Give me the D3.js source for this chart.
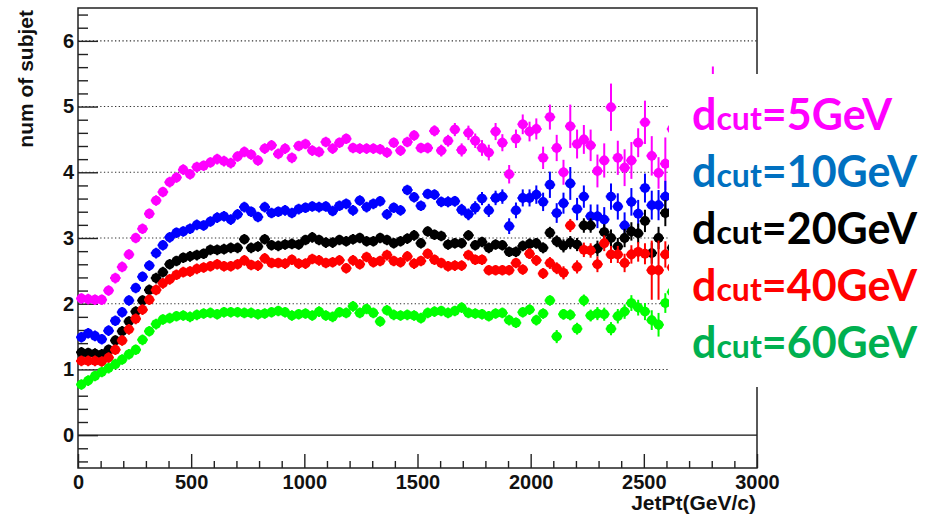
<!DOCTYPE html>
<html>
<head>
<meta charset="utf-8">
<script src="https://cdn.jsdelivr.net/npm/d3@7"></script>
<style>
  body { margin: 0; background: #fff; }
  svg { display: block; }
</style>
</head>
<body>
<svg id="chart" width="925" height="516"></svg>
<script>
// Histogram binning: 30 GeV bins starting at 0
const binWidth = 30;
const binStart = 0;

// Mean number of subjets per JetPt bin, one array per dcut value
const dcut5 = [2.08,2.07,2.06,2.06,2.20,2.39,2.56,2.75,3.00,3.14,3.37,3.57,3.70,3.85,3.92,4.04,3.97,4.08,4.10,4.15,
  4.20,4.17,4.14,4.24,4.31,4.27,4.18,4.36,4.41,4.28,4.36,4.22,4.40,4.43,4.33,4.31,4.46,4.36,4.45,4.51,
  4.37,4.36,4.36,4.36,4.35,4.30,4.45,4.33,4.46,4.56,4.37,4.37,4.63,4.33,4.48,4.65,4.34,4.60,4.48,4.37,
  4.30,4.62,4.45,3.97,4.51,4.73,4.62,4.66,4.22,4.84,4.37,4.00,4.70,4.43,4.50,4.41,4.02,4.18,4.99,4.22,
  4.07,4.18,4.45,4.76,4.25,3.99,4.13,4.66,4.35,4.60,4.20,4.50,4.40,5.25];
const dcut10 = [1.49,1.55,1.51,1.46,1.59,1.74,1.87,2.05,2.24,2.41,2.58,2.77,2.89,3.01,3.08,3.10,3.14,3.20,3.19,3.25,
  3.31,3.33,3.28,3.36,3.47,3.40,3.32,3.47,3.38,3.40,3.42,3.38,3.44,3.46,3.48,3.47,3.48,3.41,3.49,3.52,
  3.42,3.57,3.47,3.52,3.56,3.36,3.46,3.42,3.73,3.62,3.49,3.67,3.66,3.55,3.55,3.56,3.43,3.36,3.46,3.60,
  3.42,3.61,3.63,3.18,3.42,3.61,3.61,3.66,3.55,3.81,3.38,3.53,3.83,3.44,3.63,3.33,3.33,3.28,3.63,3.48,
  3.19,3.55,3.37,3.76,3.50,3.50,3.63,3.40];
const dcut20 = [1.26,1.25,1.24,1.23,1.30,1.44,1.58,1.73,1.88,2.05,2.21,2.39,2.48,2.60,2.65,2.70,2.72,2.74,2.76,2.82,
  2.82,2.83,2.85,2.85,2.98,2.85,2.87,2.98,2.89,2.88,2.90,2.91,2.90,2.97,3.01,2.97,2.93,2.93,2.97,2.95,
  2.98,3.00,2.95,2.95,3.00,2.97,2.92,2.95,2.99,3.04,2.92,3.10,3.05,3.03,2.90,2.92,2.92,3.04,2.89,2.94,
  2.85,2.90,2.89,2.79,2.79,2.88,2.91,2.92,2.85,3.08,2.95,2.88,2.93,2.90,3.19,3.19,2.84,3.09,3.00,2.87,
  3.00,3.10,3.07,3.26,2.77,3.00,3.38,2.85];
const dcut40 = [1.13,1.13,1.13,1.12,1.18,1.30,1.44,1.61,1.77,1.91,2.06,2.21,2.31,2.37,2.44,2.48,2.49,2.53,2.55,2.57,
  2.60,2.57,2.57,2.60,2.66,2.59,2.58,2.69,2.62,2.62,2.61,2.67,2.61,2.61,2.68,2.66,2.62,2.63,2.66,2.54,
  2.66,2.60,2.71,2.63,2.65,2.74,2.65,2.63,2.72,2.61,2.65,2.76,2.67,2.62,2.57,2.58,2.58,2.74,2.67,2.67,
  2.51,2.51,2.51,2.51,2.62,2.52,2.76,2.66,2.46,2.62,2.54,2.47,3.19,2.56,2.82,2.81,2.60,2.92,2.75,2.75,
  2.62,2.75,2.79,2.76,2.51,2.51,2.75,2.55];
const dcut60 = [0.77,0.83,0.90,0.96,1.02,1.08,1.15,1.23,1.30,1.45,1.58,1.69,1.76,1.78,1.81,1.82,1.80,1.83,1.85,1.86,
  1.84,1.87,1.87,1.87,1.86,1.86,1.84,1.85,1.87,1.89,1.87,1.82,1.84,1.85,1.82,1.88,1.82,1.80,1.87,1.86,
  1.96,1.86,1.92,1.86,1.73,1.90,1.83,1.82,1.83,1.82,1.78,1.86,1.88,1.89,1.86,1.89,1.94,1.86,1.85,1.84,
  1.81,1.85,1.86,1.75,1.71,1.87,1.91,1.75,1.85,2.05,1.50,1.84,1.83,1.62,2.05,1.82,1.85,1.84,1.62,1.81,
  1.88,2.01,1.94,1.88,1.75,1.68,2.01,2.18];

// Statistical errors per bin
const err5 = [0.02,0.02,0.02,0.02,0.02,0.02,0.02,0.02,0.02,0.02,0.02,0.02,0.02,0.02,0.02,0.02,0.02,0.02,0.02,0.02,
  0.02,0.02,0.02,0.02,0.02,0.02,0.02,0.02,0.02,0.02,0.03,0.03,0.03,0.03,0.03,0.03,0.03,0.03,0.03,0.03,
  0.04,0.04,0.05,0.05,0.05,0.05,0.06,0.06,0.06,0.07,0.07,0.08,0.08,0.09,0.09,0.10,0.10,0.11,0.11,0.12,
  0.12,0.13,0.13,0.14,0.14,0.15,0.15,0.16,0.17,0.19,0.20,0.19,0.33,0.22,0.22,0.24,0.25,0.26,0.36,0.26,
  0.28,0.28,0.22,0.33,0.30,0.24,0.40,0.35,0.30,0.30,0.32,0.32,0.34,0.36];
const err10 = [0.02,0.02,0.02,0.02,0.02,0.02,0.02,0.02,0.02,0.02,0.02,0.02,0.02,0.02,0.02,0.02,0.02,0.02,0.02,0.02,
  0.02,0.02,0.02,0.02,0.02,0.02,0.02,0.02,0.02,0.02,0.02,0.02,0.02,0.02,0.02,0.02,0.02,0.02,0.02,0.02,
  0.03,0.03,0.04,0.04,0.04,0.04,0.05,0.05,0.05,0.06,0.06,0.07,0.07,0.07,0.08,0.08,0.09,0.09,0.10,0.10,
  0.10,0.11,0.11,0.12,0.12,0.13,0.13,0.14,0.14,0.20,0.15,0.16,0.25,0.17,0.17,0.18,0.18,0.19,0.20,0.20,
  0.20,0.21,0.21,0.22,0.22,0.23,0.24,0.25];
const err20 = [0.01,0.01,0.01,0.01,0.01,0.01,0.01,0.01,0.01,0.01,0.01,0.01,0.01,0.01,0.01,0.01,0.01,0.01,0.01,0.01,
  0.01,0.01,0.01,0.01,0.01,0.01,0.01,0.01,0.01,0.01,0.01,0.01,0.01,0.01,0.01,0.01,0.01,0.01,0.01,0.01,
  0.02,0.02,0.02,0.02,0.02,0.03,0.03,0.03,0.03,0.03,0.03,0.04,0.04,0.04,0.04,0.05,0.05,0.05,0.05,0.05,
  0.06,0.06,0.06,0.07,0.07,0.07,0.08,0.08,0.08,0.09,0.09,0.10,0.10,0.10,0.11,0.11,0.12,0.12,0.13,0.13,
  0.14,0.14,0.15,0.17,0.16,0.17,0.20,0.19];
const err40 = [0.01,0.01,0.01,0.01,0.01,0.01,0.01,0.01,0.01,0.01,0.01,0.01,0.01,0.01,0.01,0.01,0.01,0.01,0.01,0.01,
  0.01,0.01,0.01,0.01,0.01,0.01,0.01,0.01,0.01,0.01,0.01,0.01,0.01,0.01,0.01,0.01,0.01,0.01,0.01,0.01,
  0.02,0.02,0.02,0.02,0.02,0.03,0.03,0.03,0.03,0.03,0.03,0.04,0.04,0.04,0.04,0.05,0.05,0.05,0.05,0.05,
  0.06,0.06,0.06,0.07,0.07,0.07,0.08,0.08,0.08,0.09,0.09,0.10,0.10,0.10,0.11,0.11,0.12,0.12,0.13,0.13,
  0.14,0.14,0.15,0.16,0.45,0.45,0.20,0.19];
const err60 = [0.01,0.01,0.01,0.01,0.01,0.01,0.01,0.01,0.01,0.01,0.01,0.01,0.01,0.01,0.01,0.01,0.01,0.01,0.01,0.01,
  0.01,0.01,0.01,0.01,0.01,0.01,0.01,0.01,0.01,0.01,0.01,0.01,0.01,0.01,0.01,0.01,0.01,0.01,0.01,0.01,
  0.015,0.015,0.015,0.015,0.015,0.02,0.02,0.02,0.02,0.02,0.03,0.03,0.03,0.03,0.04,0.04,0.04,0.04,0.04,0.04,
  0.05,0.05,0.05,0.06,0.06,0.06,0.07,0.07,0.07,0.07,0.10,0.08,0.08,0.09,0.09,0.09,0.10,0.10,0.10,0.11,
  0.11,0.12,0.12,0.13,0.15,0.18,0.15,0.16];

const seriesColors = ["#ff00ff", "#0000ff", "#000000", "#ff0000", "#00ff00"];
const legendValues = ["5", "10", "20", "40", "60"];
const legendColors = ["#ff00ff", "#0070c0", "#000000", "#ff0000", "#00b050"];

const xTicks = [0, 500, 1000, 1500, 2000, 2500, 3000];
const yTicks = [0, 1, 2, 3, 4, 5, 6];
const yGrid = [1, 2, 3, 4, 5, 6];

const allSeries = [
  { values: dcut5, errors: err5 },
  { values: dcut10, errors: err10 },
  { values: dcut20, errors: err20 },
  { values: dcut40, errors: err40 },
  { values: dcut60, errors: err60 }
];

const svg = d3.select("#chart");
const plotLeft = 78, plotRight = 757, plotTop = 8, plotBottom = 468;

const x = d3.scaleLinear().domain([0, 3000]).range([plotLeft, plotRight]);
const y = d3.scaleLinear().domain([-0.5, 6.5]).range([plotBottom, plotTop]);

svg.append("rect").attr("width", 925).attr("height", 516).attr("fill", "#fff");

// Dotted grid lines at integer values
svg.append("g").selectAll("line").data(yGrid).join("line")
  .attr("x1", plotLeft).attr("x2", plotRight)
  .attr("y1", d => y(d)).attr("y2", d => y(d))
  .attr("stroke", "#333").attr("stroke-width", 1.1)
  .attr("stroke-dasharray", "1.3,2.4");

// Solid zero line
svg.append("line")
  .attr("x1", plotLeft).attr("x2", plotRight)
  .attr("y1", y(0)).attr("y2", y(0))
  .attr("stroke", "#111").attr("stroke-width", 1.2);

// Minor ticks
const xMinor = d3.range(0, 31).map(i => i * 100).filter(v => v % 500 !== 0);
const yMinor = d3.range(-2, 33).map(i => +(i * 0.2).toFixed(1)).filter(v => !Number.isInteger(v));

const tickFont = "'Liberation Sans', Arial, sans-serif";

const gxMinor = svg.append("g").attr("transform", `translate(0,${plotBottom})`)
  .call(d3.axisBottom(x).tickValues(xMinor).tickSize(-7).tickFormat(""));
const gyMinor = svg.append("g").attr("transform", `translate(${plotLeft},0)`)
  .call(d3.axisLeft(y).tickValues(yMinor).tickSize(-10).tickFormat(""));

const gx = svg.append("g").attr("transform", `translate(0,${plotBottom})`)
  .call(d3.axisBottom(x).tickValues(xTicks).tickSize(-14).tickPadding(7).tickFormat(d3.format("d")));
const gy = svg.append("g").attr("transform", `translate(${plotLeft},0)`)
  .call(d3.axisLeft(y).tickValues(yTicks).tickSize(-20).tickPadding(4).tickFormat(d3.format("d")));

[gxMinor, gyMinor, gx, gy].forEach(g => {
  g.select(".domain").remove();
  g.selectAll(".tick line").attr("stroke", "#222").attr("stroke-width", 1.4);
});
[gx, gy].forEach(g => {
  g.selectAll(".tick text")
    .attr("fill", "#111")
    .style("font-family", tickFont)
    .style("font-weight", "bold")
    .style("font-size", "20px");
});

// Frame
svg.append("rect")
  .attr("x", plotLeft).attr("y", plotTop)
  .attr("width", plotRight - plotLeft).attr("height", plotBottom - plotTop)
  .attr("fill", "none").attr("stroke", "#222").attr("stroke-width", 1.5);

// Data points (full circles) with vertical error bars
const marker = "M-5.3,-1h10.6v2h-10.6z M-1,-5.3h2v10.6h-2z";
allSeries.forEach((s, si) => {
  const pts = s.values.map((v, i) => ({
    x: binStart + binWidth * (i + 0.5),
    y: v,
    e: s.errors[i]
  }));
  const g = svg.append("g").attr("fill", seriesColors[si]).attr("stroke", seriesColors[si]);
  g.selectAll("line.v").data(pts).join("line").attr("class", "v")
    .attr("x1", d => x(d.x)).attr("x2", d => x(d.x))
    .attr("y1", d => y(d.y - d.e)).attr("y2", d => y(d.y + d.e))
    .attr("stroke-width", 2);
  g.selectAll("line.h").data(pts).join("line").attr("class", "h")
    .attr("x1", d => x(d.x - binWidth / 2)).attr("x2", d => x(d.x + binWidth / 2))
    .attr("y1", d => y(d.y)).attr("y2", d => y(d.y))
    .attr("stroke-width", 2);
  g.selectAll("circle").data(pts).join("circle")
    .attr("cx", d => x(d.x)).attr("cy", d => y(d.y))
    .attr("r", 4.9).attr("stroke", "none");
  g.selectAll("path").data(pts).join("path")
    .attr("d", marker).attr("stroke", "none")
    .attr("transform", d => `translate(${x(d.x)},${y(d.y)})`);
});

// Axis titles
svg.append("text")
  .attr("x", 756).attr("y", 510)
  .attr("text-anchor", "end")
  .style("font-family", tickFont).style("font-weight", "bold").style("font-size", "21px")
  .attr("fill", "#111")
  .text("JetPt(GeV/c)");

svg.append("text")
  .attr("transform", "translate(33,10) rotate(-90)")
  .attr("text-anchor", "end")
  .style("font-family", tickFont).style("font-weight", "bold").style("font-size", "21px")
  .attr("fill", "#111")
  .text("num of subjet");

// Legend panel
svg.append("rect")
  .attr("x", 669).attr("y", 74).attr("width", 256).attr("height", 313)
  .attr("fill", "#fff");

const legend = svg.append("g")
  .style("font-family", "Lato, 'Open Sans', sans-serif")
  .style("font-weight", "bold");
legendValues.forEach((v, i) => {
  const t = legend.append("text")
    .attr("x", 692).attr("y", 130 + i * 57)
    .attr("fill", legendColors[i]);
  t.append("tspan").style("font-size", "43px").text("d");
  t.append("tspan").style("font-size", "32px").text("cut");
  t.append("tspan").style("font-size", "43px").text(`=${v}GeV`);
});
</script>
</body>
</html>
